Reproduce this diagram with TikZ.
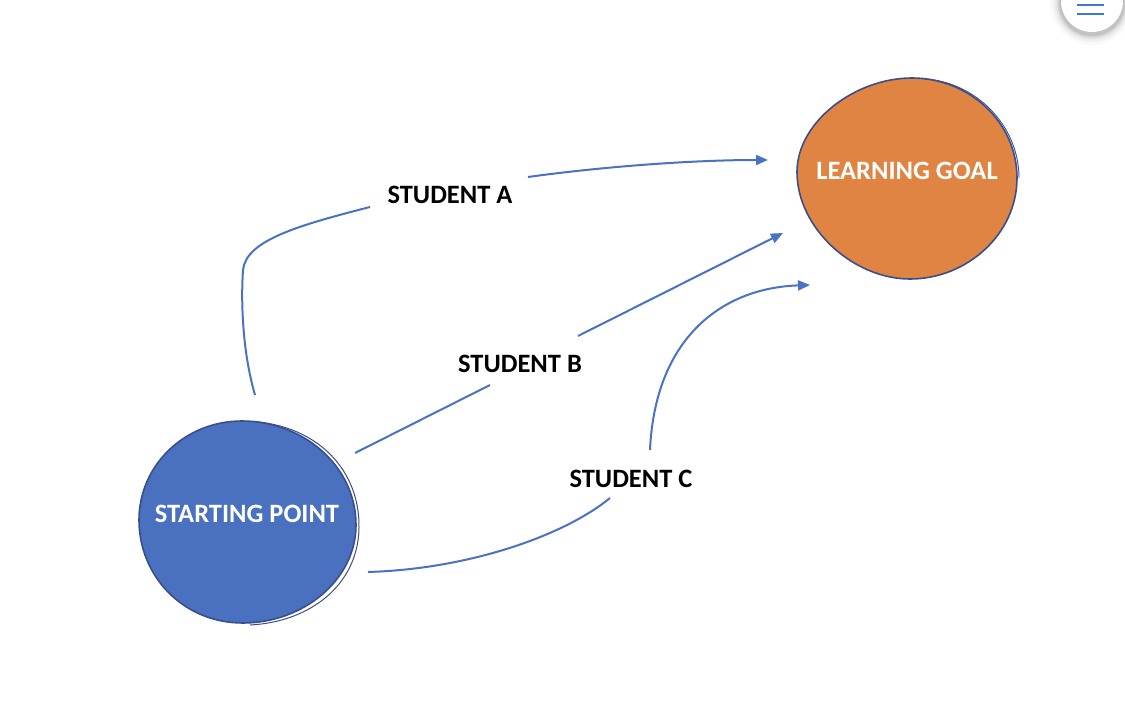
\documentclass[tikz,border=0pt]{standalone}
\usepackage{fontspec}
\setmainfont{Carlito}
\usetikzlibrary{shapes.geometric,arrows.meta}
\definecolor{lineblue}{HTML}{4A72C4}
\definecolor{startblue}{HTML}{4A70C0}
\definecolor{goalorange}{HTML}{DF8442}
\definecolor{rimnavy}{HTML}{3A4E8C}
\definecolor{menublue}{HTML}{3B78D8}
\tikzset{
  blobrim/.style={draw=rimnavy, line width=1.6pt},
  blobtext/.style={text=white, font=\bfseries\fontsize{26.5}{30}\selectfont},
  pathlabel/.style={text=black, font=\bfseries\fontsize{26.5}{30}\selectfont},
  link/.style={draw=lineblue, line width=2pt},
  linkarrow/.style={link, -{Triangle[length=12pt,width=10pt]}},
}
\begin{document}
\begin{tikzpicture}[x=1pt,y=-1pt]
\useasboundingbox[fill=white] (0,0) rectangle (1125,703);
% menu button
\foreach \r/\o in {42/0.02,39/0.035,36.5/0.05,34.5/0.07,33/0.08}{
  \fill[black,opacity=\o] (1092,3) circle (\r);
}
\node[circle, fill=white, minimum size=62pt, inner sep=0pt] (menu) at (1092,1) {};
\draw[menublue, line width=2.6pt] (1077,5) -- (1104,5);
\draw[menublue, line width=2.6pt] (1077,14) -- (1104,14);

% starting point blob
\node[ellipse, inner sep=0pt, minimum width=217pt, minimum height=203pt] (start) at (247.5,521.5) {};
\filldraw[blobrim, fill=startblue]
  (242,421) .. controls (302,421) and (356,465) .. (356,525)
  .. controls (356,580) and (303,623) .. (243,623)
  .. controls (183,623) and (139,576) .. (139,520)
  .. controls (139,465) and (185,421) .. cycle;
\draw[rimnavy, line width=1pt]
  (258,422) .. controls (318,428) and (360,470) .. (359,528)
  .. controls (358,585) and (310,622) .. (250,625);
\node[blobtext] (startlbl) at (247,514) {STARTING POINT};

% learning goal blob
\node[ellipse, inner sep=0pt, minimum width=219pt, minimum height=201pt] (goal) at (906.5,178.5) {};
\filldraw[blobrim, fill=goalorange]
  (912,78) .. controls (969,78) and (1017,122) .. (1017,178)
  .. controls (1017,234) and (967,279) .. (910,279)
  .. controls (853,279) and (797,228) .. (797,172)
  .. controls (797,122) and (855,78) .. cycle;
\draw[rimnavy, line width=0.9pt]
  (925,79) .. controls (975,82) and (1019,125) .. (1019,178);
\node[blobtext] (goallbl) at (907,171) {LEARNING GOAL};

% labels
\node[pathlabel] (labA) at (450,195) {STUDENT A};
\node[pathlabel] (labB) at (520,364) {STUDENT B};
\node[pathlabel] (labC) at (631,479) {STUDENT C};

% path coordinates
\coordinate (a0) at (255,395);
\coordinate (a1) at (370,207);
\coordinate (a2) at (528,177);
\coordinate (a3) at (768,160);
\coordinate (b0) at (355,453);
\coordinate (b1) at (490,385);
\coordinate (b2) at (578,336);
\coordinate (b3) at (783,233);
\coordinate (c0) at (368,572);
\coordinate (c1) at (610,498);
\coordinate (c2) at (650,450);
\coordinate (c3) at (810,285);

% student A
\draw[link] (a0) .. controls (242,350) and (241,300) .. (243,270)
  .. controls (246,240) and (300,225) .. (a1);
\draw[linkarrow] (a2) .. controls (600,167) and (690,160) .. (a3);
% student B
\draw[link] (b0) -- (b1);
\draw[linkarrow] (b2) -- (b3);
% student C
\draw[link] (c0) .. controls (470,569) and (565,535) .. (c1);
\draw[linkarrow] (c2) .. controls (655,340) and (720,288) .. (c3);
\end{tikzpicture}
\end{document}
